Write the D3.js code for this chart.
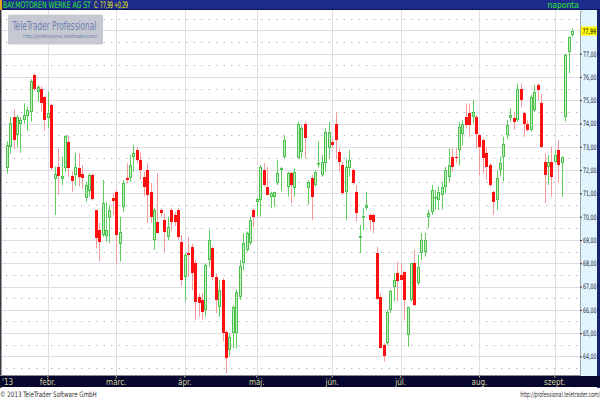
<!DOCTYPE html>
<html><head><meta charset="utf-8">
<script src="https://cdn.jsdelivr.net/npm/d3@7"></script>
<style>body{margin:0;background:#fff}svg{display:block}</style>
</head><body>
<svg id="chart" width="600" height="400"></svg>
<script>
// ---------- data ----------
const instrument = "BAY.MOTOREN WERKE AG ST";
const quoteText = "C: 77,99 +0,29";
const periodText = "naponta";
const lastPrice = 77.99;
const yearLabel = "'13";
const monthLabels = ["febr.","márc.","ápr.","máj.","jún.","júl.","aug.","szept."];
const yTicks = [64,65,66,67,68,69,70,71,72,73,74,75,76,77];
const startDate = "2013-01-16", endDate = "2013-09-09";
const holidays = ["2013-03-29","2013-04-01","2013-05-01"];
const copyright = "© 2013 TeleTrader Software GmbH";
const siteUrl = "http://professional.teletrader.com/";
const logoText = "TeleTrader Professional";

const open = [72.10,72.97,74.30,73.50,74.00,74.15,74.32,74.50,76.08,75.36,
75.50,75.15,74.22,74.80,71.60,72.12,71.60,72.08,73.22,71.75,
71.78,72.08,71.83,70.79,71.12,71.79,70.28,69.43,69.21,69.17,
69.93,70.79,71.07,68.83,70.43,71.65,71.65,72.58,72.86,72.43,
71.72,72.00,71.07,69.00,69.79,70.29,69.86,69.14,70.29,70.07,
70.29,68.93,67.42,68.43,68.71,68.00,66.57,66.43,66.00,68.14,
68.64,67.43,66.14,67.28,65.07,64.28,65.00,65.00,66.57,68.00,
68.57,68.86,70.29,70.65,70.72,72.00,71.29,70.86,70.86,71.43,
72.00,72.58,71.29,71.86,71.22,72.50,72.79,74.00,71.22,71.65,
71.36,72.25,71.79,72.29,72.93,73.22,74.00,72.79,72.22,71.07,
72.07,72.00,71.07,69.10,70.00,70.36,70.07,70.07,68.43,66.57,
64.50,64.57,66.00,67.00,67.57,67.50,67.64,64.92,66.43,68.00,
67.14,68.43,68.50,70.00,70.21,70.80,70.72,70.93,71.29,71.72,
72.58,72.58,72.86,73.57,74.29,74.43,74.30,74.30,73.50,73.29,
72.72,72.22,71.07,70.72,72.00,72.58,73.50,74.22,74.22,74.15,
75.50,74.43,74.00,73.72,74.57,75.65,74.86,72.36,72.15,72.36,
72.36,72.86,72.29,74.29,77.08,77.80];
const high = [73.24,74.30,74.60,74.35,74.27,74.87,74.72,75.90,76.15,75.65,
75.60,75.20,75.37,74.85,72.15,72.93,72.58,73.50,73.50,71.93,
72.75,72.72,72.20,71.50,71.86,71.86,70.30,69.74,71.57,70.64,
70.50,71.00,71.15,70.00,71.57,72.29,72.65,73.07,73.00,72.75,
71.93,72.29,71.44,70.36,71.86,70.36,70.15,70.00,70.36,70.20,
70.36,69.21,68.43,69.14,68.83,68.14,66.71,66.71,68.00,69.43,
68.71,67.57,67.28,67.36,65.14,65.00,66.20,66.86,68.14,69.29,
69.36,70.00,70.36,70.80,72.22,72.29,72.14,71.07,71.07,72.43,
72.14,73.50,71.93,71.93,72.07,74.07,73.93,74.07,71.57,71.79,
72.00,73.22,72.65,73.79,74.07,73.36,74.44,72.93,72.36,72.50,
72.86,72.07,71.36,69.65,70.36,71.07,70.14,70.14,68.71,66.71,
64.57,66.00,66.86,67.57,68.07,68.00,67.66,66.14,68.00,68.57,
68.36,69.29,69.30,70.30,71.36,71.14,71.29,71.50,72.14,72.93,
72.93,72.93,74.07,74.14,74.86,74.86,75.00,74.36,73.57,73.36,
73.00,72.29,71.14,72.00,72.58,73.43,74.15,74.65,74.50,75.72,
75.72,74.50,74.14,75.22,75.65,75.72,75.29,72.72,72.65,73.00,
72.86,73.29,72.58,77.00,77.75,78.09];
const low = [71.85,72.70,72.90,73.00,72.75,74.00,73.70,74.08,75.40,74.93,
74.50,73.69,73.80,72.00,70.07,70.93,71.35,71.90,71.72,71.07,
71.32,71.29,71.20,70.64,70.86,70.70,68.64,68.07,69.14,68.93,
68.86,70.07,68.00,68.07,70.21,71.43,71.50,71.93,72.30,71.60,
70.86,69.72,69.73,68.58,69.29,70.00,68.50,69.00,69.36,69.60,
69.00,67.02,66.35,67.42,66.85,65.57,65.71,65.57,65.71,67.86,
67.28,65.86,65.71,64.64,63.28,64.00,64.35,64.35,66.43,67.71,
68.50,68.79,69.57,70.00,70.00,71.29,70.93,70.36,70.43,71.36,
71.07,72.50,70.86,70.57,70.86,72.50,72.50,72.50,70.50,69.85,
71.29,72.10,71.72,71.93,72.50,72.93,72.50,71.93,70.93,69.85,
71.72,71.36,69.79,68.43,69.43,70.29,69.43,69.29,66.43,64.35,
63.78,64.50,65.86,66.36,66.36,67.28,65.57,64.42,66.36,66.14,
67.07,68.14,68.28,69.50,70.07,70.29,70.30,70.30,71.00,71.50,
71.93,72.29,72.20,73.07,73.79,73.43,74.00,72.93,71.79,71.86,
71.57,71.29,70.07,70.29,71.72,71.50,73.36,74.07,73.72,74.07,
74.72,73.43,73.65,73.65,74.50,75.00,72.93,70.58,71.36,70.86,
72.29,71.43,70.86,74.08,76.15,77.70];
const close = [73.08,74.04,73.30,74.28,74.15,74.36,74.60,75.84,75.47,75.58,
74.89,74.15,74.44,72.07,71.85,71.75,71.75,73.47,72.08,71.55,
72.12,71.69,71.65,71.36,71.79,70.75,69.07,68.93,70.57,69.43,
70.29,70.69,69.21,69.36,71.43,71.57,72.22,72.72,72.43,72.00,
71.29,70.93,70.00,70.29,69.29,70.15,69.36,69.57,69.79,69.79,
69.14,67.28,68.36,68.36,67.57,66.35,66.28,65.92,67.93,69.00,
67.43,66.43,66.86,65.00,63.92,64.85,66.14,66.78,67.88,68.86,
69.29,69.86,70.00,70.75,72.14,71.36,70.93,71.00,71.07,71.86,
72.07,73.29,71.86,71.36,71.93,74.00,73.79,73.36,71.50,70.86,
71.93,72.30,72.36,73.64,73.64,73.07,73.29,72.36,71.00,72.14,
72.43,71.43,70.14,69.16,70.05,70.50,69.86,69.79,66.45,64.37,
64.00,65.92,66.79,67.28,67.22,67.30,66.43,66.14,68.00,66.21,
67.86,69.00,69.00,70.14,71.14,70.86,71.07,71.29,72.00,72.22,
72.14,72.50,73.86,74.00,73.93,73.93,74.50,73.57,73.00,72.50,
72.14,71.36,70.65,71.64,72.29,73.14,73.93,74.36,74.07,75.50,
75.00,74.00,73.72,75.15,75.36,75.43,73.00,71.79,72.36,71.72,
72.65,72.22,72.58,76.93,77.70,77.99];

// ---------- setup ----------
const W = 600, H = 400;
const plot = {left: 2, right: 580, top: 10, bottom: 376};
const svg = d3.select("#chart");
const font = "'Liberation Sans Narrow','DejaVu Sans Condensed','Liberation Sans',sans-serif";

// squeeze a text horizontally (around its x anchor) so its width fits `w`
function squeeze(sel, w) {
  sel.each(function () {
    const n = this, len = n.getComputedTextLength();
    if (len > w) {
      const k = w / len, x0 = +(n.getAttribute("x") || 0);
      n.setAttribute("transform", `translate(${x0 * (1 - k)},0) scale(${k},1)`);
    }
  });
}

const parse = d3.utcParse("%Y-%m-%d"), fmtDay = d3.utcFormat("%Y-%m-%d");
const days = d3.utcDay.range(parse(startDate), d3.utcDay.offset(parse(endDate), 1))
  .filter(d => d.getUTCDay() !== 0 && d.getUTCDay() !== 6 && !holidays.includes(fmtDay(d)))
  .map(fmtDay);
const data = days.map((d, i) => ({date: d, o: open[i], h: high[i], l: low[i], c: close[i]}));

const x = d3.scaleBand().domain(days).range([5, 573.7]);
const cx = d => x(d) + x.bandwidth() / 2;
const y = d3.scaleLinear().domain([63.16, 78.83]).range([plot.bottom, plot.top + 1]);

const loc = d3.formatLocale({decimal: ",", thousands: ".", grouping: [3], currency: ["", "€"]});
const f2 = loc.format(".2f");

const monthStarts = days.filter((d, i) => i > 0 && d.slice(5, 7) !== days[i - 1].slice(5, 7));

// background
svg.append("rect").attr("width", W).attr("height", H).attr("fill", "#fff");

// grid
const grid = svg.append("g");
const intLevels = d3.range(64, 79);
grid.selectAll("line.h").data(intLevels).join("line")
  .attr("x1", plot.left).attr("x2", plot.right)
  .attr("y1", d => Math.round(y(d)) + 0.5).attr("y2", d => Math.round(y(d)) + 0.5)
  .attr("stroke", "#dedbe4").attr("stroke-width", 1);
const halfLevels = d3.range(63.5, 79, 1);
grid.selectAll("line.d").data(halfLevels).join("line")
  .attr("x1", plot.left + 4).attr("x2", plot.right)
  .attr("y1", d => Math.round(y(d)) + 0.5).attr("y2", d => Math.round(y(d)) + 0.5)
  .attr("stroke", "#b8b8c0").attr("stroke-width", 1).attr("stroke-dasharray", "1.5,6");
grid.selectAll("line.v").data(monthStarts).join("line")
  .attr("x1", d => Math.round(cx(d)) + 0.5).attr("x2", d => Math.round(cx(d)) + 0.5)
  .attr("y1", plot.top).attr("y2", plot.bottom)
  .attr("stroke", "#e4dde6").attr("stroke-width", 1);

// logo watermark
const logo = svg.append("g");
logo.append("rect").attr("x", 8).attr("y", 14.5).attr("width", 95).attr("height", 30).attr("rx", 1.5)
  .attr("fill", "#c6c9d1");
logo.append("text").attr("x", 12.5).attr("y", 30).attr("font-family", font).attr("font-size", 11.5)
  .attr("fill", "#6f80b0").text(logoText).call(squeeze, 84);
logo.append("text").attr("x", 23).attr("y", 38.5).attr("font-family", font).attr("font-size", 5.5)
  .attr("fill", "#6f80b0").text(siteUrl).call(squeeze, 74);

// candles
svg.append("clipPath").attr("id", "clip").append("rect")
  .attr("x", plot.left).attr("y", plot.top).attr("width", plot.right - plot.left).attr("height", plot.bottom - plot.top);
const cg = svg.append("g").attr("clip-path", "url(#clip)");
const up = d => d.c >= d.o;
const c = cg.selectAll("g").data(data).join("g");
c.append("line")
  .attr("x1", d => Math.round(cx(d.date)) + 0.5).attr("x2", d => Math.round(cx(d.date)) + 0.5)
  .attr("y1", d => y(d.h)).attr("y2", d => y(d.l))
  .attr("stroke", d => up(d) ? "#5fcf5f" : "#f59a9a").attr("stroke-width", 1);
c.filter(d => !up(d)).append("rect")
  .attr("x", d => Math.round(cx(d.date)) - 1)
  .attr("y", d => Math.round(y(d.o)))
  .attr("width", 3)
  .attr("height", d => Math.max(1, Math.round(y(d.c)) - Math.round(y(d.o))))
  .attr("fill", "#ff1010");
c.filter(up).append("rect")
  .attr("x", d => Math.round(cx(d.date)) - 0.5)
  .attr("y", d => Math.round(y(d.c)) + 0.5)
  .attr("width", 2)
  .attr("height", d => Math.max(0.5, Math.round(y(d.o)) - Math.round(y(d.c)) - 1))
  .attr("fill", "#c4eec4").attr("stroke", "#4cc24c").attr("stroke-width", 1);

// left frame
svg.append("rect").attr("x", 0).attr("y", 10).attr("width", 1.5).attr("height", 378).attr("fill", "#3a3a44");

// right value panel
svg.append("rect").attr("x", plot.right).attr("y", plot.top).attr("width", 17).attr("height", plot.bottom - plot.top)
  .attr("fill", "#e0f5fd");
const yAxis = d3.axisRight(y).tickValues(yTicks).tickFormat(f2).tickSize(2).tickPadding(1);
const ya = svg.append("g").attr("transform", `translate(${plot.right},0)`).call(yAxis);
ya.select(".domain").attr("stroke", "#9aa4b0");
ya.selectAll(".tick line").attr("stroke", "#333");
ya.selectAll(".tick text").attr("font-family", font).attr("font-size", 7.5).attr("fill", "#1a1a3a")
  .call(squeeze, 13.5);

// last price tag
const tag = svg.append("g").attr("transform", `translate(${plot.right + 1},${Math.round(y(lastPrice))})`);
tag.append("rect").attr("x", 0).attr("y", -4.5).attr("width", 16).attr("height", 9).attr("fill", "#ffff00");
tag.append("text").attr("x", 1.5).attr("y", 3).attr("font-family", font).attr("font-size", 7.5).attr("fill", "#000")
  .text(f2(lastPrice)).call(squeeze, 13.5);

// right frame
svg.append("rect").attr("x", 597).attr("y", 0).attr("width", 3).attr("height", 388).attr("fill", "#17236e");

// bottom axis bar
svg.append("rect").attr("x", 0).attr("y", plot.bottom).attr("width", W).attr("height", 11).attr("fill", "#06062e");
svg.append("line").attr("x1", 0).attr("x2", plot.right).attr("y1", plot.bottom - 0.5).attr("y2", plot.bottom - 0.5)
  .attr("stroke", "#8a8a94");
const xAxis = d3.axisBottom(x).tickValues(monthStarts)
  .tickFormat(d => monthLabels[monthStarts.indexOf(d)]).tickSize(1.5).tickPadding(1.5);
const xa = svg.append("g").attr("transform", `translate(0,${plot.bottom})`).call(xAxis);
xa.select(".domain").remove();
xa.selectAll(".tick line").attr("stroke", "#c8c890");
xa.selectAll(".tick text").attr("font-family", font).attr("font-size", 8).attr("fill", "#d6d69a");
svg.append("text").attr("x", 2).attr("y", 384.5).attr("font-family", font).attr("font-size", 8)
  .attr("fill", "#d6d69a").text(yearLabel);

// title bar
svg.append("rect").attr("x", 0).attr("y", 0).attr("width", W).attr("height", 10).attr("fill", "#1d2c8c");
svg.append("rect").attr("x", 0).attr("y", 9).attr("width", W).attr("height", 1).attr("fill", "#0c1450");
svg.append("rect").attr("x", 0).attr("y", 0).attr("width", 2).attr("height", 10).attr("fill", "#e8a020");
svg.append("text").attr("x", 3).attr("y", 8).attr("font-family", font).attr("font-size", 9)
  .attr("fill", "#2ee82e").text(instrument).call(squeeze, 88);
svg.append("text").attr("x", 94).attr("y", 8).attr("font-family", font).attr("font-size", 9)
  .attr("fill", "#f4f400").text(quoteText).call(squeeze, 34);
svg.append("text").attr("x", 579).attr("y", 8).attr("text-anchor", "end").attr("font-family", font).attr("font-size", 8.5)
  .attr("fill", "#2ee82e").text(periodText);

// footer
svg.append("text").attr("x", 0).attr("y", 397).attr("font-family", font).attr("font-size", 7.5)
  .attr("fill", "#333").text(copyright).call(squeeze, 97);
svg.append("text").attr("x", 600).attr("y", 397).attr("text-anchor", "end").attr("font-family", font).attr("font-size", 7.5)
  .attr("fill", "#333").text(siteUrl).call(squeeze, 80);
</script>
</body></html>
